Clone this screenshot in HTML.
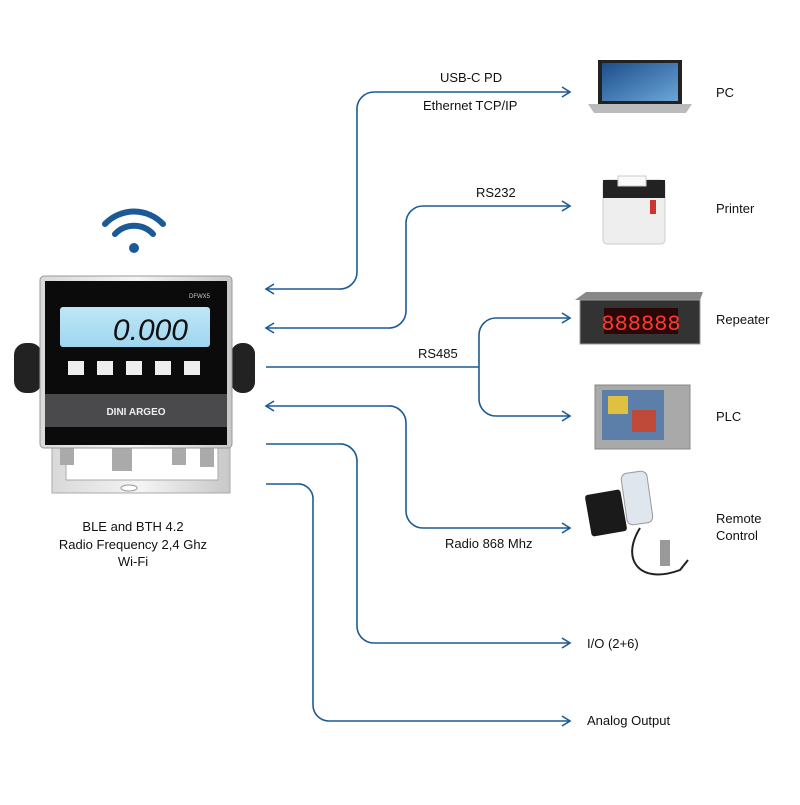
<!DOCTYPE html>
<html><head><meta charset="utf-8"><style>
body{margin:0;background:#fff;}
svg text{font-family:"Liberation Sans",sans-serif;fill:#111;}
</style></head><body>
<svg width="800" height="800" viewBox="0 0 800 800" xmlns="http://www.w3.org/2000/svg">
<defs>
<linearGradient id="steel" x1="0" x2="1"><stop offset="0" stop-color="#d9d9d9"/><stop offset=".5" stop-color="#f4f4f4"/><stop offset="1" stop-color="#c8c8c8"/></linearGradient>
<linearGradient id="lcd" x1="0" y1="0" x2="0" y2="1"><stop offset="0" stop-color="#bfe6f7"/><stop offset="1" stop-color="#9fd6ef"/></linearGradient>
<linearGradient id="scr" x1="0" y1="0" x2="1" y2="1"><stop offset="0" stop-color="#1d4e8a"/><stop offset="1" stop-color="#6aa6d8"/></linearGradient>
</defs>
<g fill="none" stroke="#1c5a96" stroke-width="1.6">
<!-- PC -->
<path d="M266 289 H339 A17 17 0 0 0 357 272 V110 A17 17 0 0 1 374 92 H570"/>
<path d="M274 284 L266 289 L274 294"/><path d="M562 87 L570 92 L562 97"/>
<!-- Printer -->
<path d="M266 328 H388 A17 17 0 0 0 406 311 V223 A17 17 0 0 1 423 206 H570"/>
<path d="M274 323 L266 328 L274 333"/><path d="M562 201 L570 206 L562 211"/>
<!-- RS485 -->
<path d="M266 367 H479"/>
<path d="M479 367 V335 A17 17 0 0 1 496 318 H570"/>
<path d="M479 367 V399 A17 17 0 0 0 496 416 H570"/>
<path d="M562 313 L570 318 L562 323"/><path d="M562 411 L570 416 L562 421"/>
<!-- Radio -->
<path d="M266 406 H388 A17 17 0 0 1 406 423 V511 A17 17 0 0 0 423 528 H570"/>
<path d="M274 401 L266 406 L274 411"/><path d="M562 523 L570 528 L562 533"/>
<!-- IO -->
<path d="M266 444 H339 A17 17 0 0 1 357 461 V626 A17 17 0 0 0 374 643 H570"/>
<path d="M562 638 L570 643 L562 648"/>
<!-- Analog -->
<path d="M266 484 H297 A15 15 0 0 1 313 500 V705 A16 16 0 0 0 329 721 H570"/>
<path d="M562 716 L570 721 L562 726"/>
</g>
<g font-size="13">
<text x="440" y="82">USB-C PD</text>
<text x="423" y="110">Ethernet TCP/IP</text>
<text x="476" y="197">RS232</text>
<text x="418" y="358">RS485</text>
<text x="445" y="548">Radio 868 Mhz</text>
<text x="587" y="648">I/O (2+6)</text>
<text x="587" y="725">Analog Output</text>
<text x="716" y="97">PC</text>
<text x="716" y="213">Printer</text>
<text x="716" y="324">Repeater</text>
<text x="716" y="421">PLC</text>
<text x="716" y="523">Remote</text>
<text x="716" y="540">Control</text>
<text x="133" y="531" text-anchor="middle">BLE and BTH 4.2</text>
<text x="133" y="549" text-anchor="middle">Radio Frequency 2,4 Ghz</text>
<text x="133" y="566" text-anchor="middle">Wi-Fi</text>
</g>
<!-- wifi -->
<g fill="none" stroke="#1c5a96" stroke-width="6" stroke-linecap="round">
<path d="M105 224 A40 40 0 0 1 163 224"/>
<path d="M115 234 A26 26 0 0 1 153 234"/>
</g>
<circle cx="134" cy="248" r="5" fill="#1c5a96"/>
<!-- device -->
<path d="M52 440 L52 493 H230 V440 H218 V480 H66 V440Z" fill="url(#steel)" stroke="#aaa"/>
<ellipse cx="129" cy="488" rx="8" ry="3" fill="#fff" stroke="#999"/>
<rect x="60" y="445" width="14" height="20" fill="#aaa"/><rect x="112" y="445" width="20" height="26" fill="#aaa"/>
<rect x="172" y="445" width="14" height="20" fill="#aaa"/><rect x="200" y="445" width="14" height="22" fill="#aaa"/>
<rect x="14" y="343" width="28" height="50" rx="12" fill="#222"/>
<rect x="231" y="343" width="24" height="50" rx="11" fill="#222"/>
<rect x="40" y="276" width="192" height="172" rx="4" fill="url(#steel)" stroke="#999"/>
<rect x="45" y="281" width="182" height="164" fill="#0b0b0b"/>
<rect x="45" y="394" width="182" height="33" fill="#4a4a4c"/>
<text x="136" y="415" font-size="10" text-anchor="middle" style="fill:#eee;font-weight:bold">DINI ARGEO</text>
<text x="210" y="298" font-size="6" text-anchor="end" style="fill:#ccc">DFWX5</text>
<rect x="60" y="307" width="150" height="40" rx="3" fill="url(#lcd)"/>
<text x="188" y="340" font-size="30" text-anchor="end" style="fill:#111;font-style:italic">0.000</text>
<g fill="#eee"><rect x="68" y="361" width="16" height="14"/><rect x="97" y="361" width="16" height="14"/><rect x="126" y="361" width="16" height="14"/><rect x="155" y="361" width="16" height="14"/><rect x="184" y="361" width="16" height="14"/></g>
<!-- laptop -->
<path d="M598 60 H682 V104 H598Z" fill="#222"/>
<rect x="602" y="63" width="76" height="38" fill="url(#scr)"/>
<path d="M588 104 H692 L686 113 H594Z" fill="#bbb"/>
<!-- printer -->
<rect x="603" y="180" width="62" height="64" rx="4" fill="#eee" stroke="#ccc"/>
<rect x="603" y="180" width="62" height="18" fill="#222"/>
<rect x="618" y="176" width="28" height="10" fill="#fafafa" stroke="#ccc"/>
<rect x="650" y="200" width="6" height="14" fill="#c33"/>
<!-- repeater -->
<path d="M575 300 L586 292 H703 L700 300 Z" fill="#888"/>
<rect x="580" y="300" width="120" height="44" fill="#333" stroke="#999"/>
<rect x="604" y="308" width="74" height="26" fill="#2a0808"/>
<text x="641" y="330" font-size="22" text-anchor="middle" style="fill:#ff3a2a;font-family:'Liberation Mono',monospace">888888</text>
<!-- PLC -->
<rect x="595" y="385" width="95" height="64" fill="#a9a9a9" stroke="#888"/>
<rect x="602" y="390" width="62" height="50" fill="#5b7fa8"/>
<rect x="608" y="396" width="20" height="18" fill="#e0c040"/><rect x="632" y="410" width="24" height="22" fill="#c04a3a"/>
<!-- remote -->
<rect x="588" y="492" width="36" height="42" rx="3" fill="#1a1a1a" transform="rotate(-10 606 513)"/>
<rect x="624" y="472" width="26" height="52" rx="6" fill="#dfe6ee" stroke="#999" transform="rotate(-8 637 498)"/>
<path d="M640 528 C620 560 640 585 680 570 L688 560" fill="none" stroke="#222" stroke-width="2"/>
<rect x="660" y="540" width="10" height="26" fill="#999"/>
</svg>
</body></html>
